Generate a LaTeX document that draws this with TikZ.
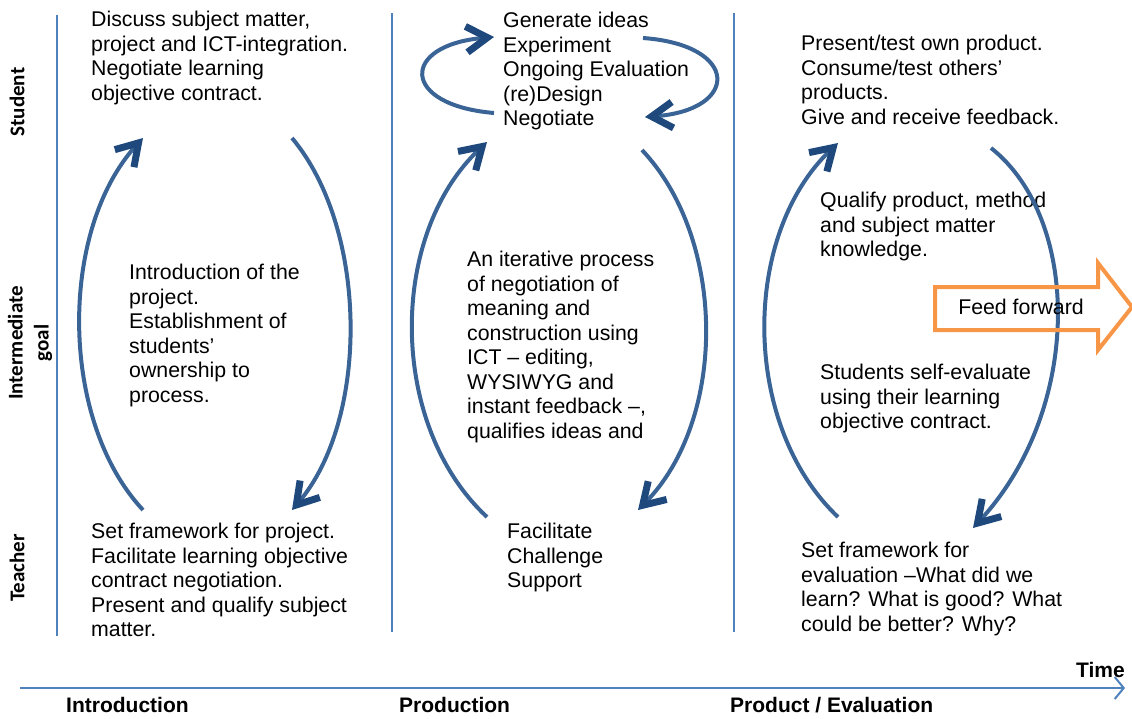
\documentclass[tikz,border=0pt]{standalone}
\usepackage{fontspec}
\setmainfont{Liberation Sans}
\newfontfamily\calibri{Carlito}
\usetikzlibrary{arrows.meta}
\definecolor{arcblue}{HTML}{3B6496}
\definecolor{headblue}{HTML}{1F497D}
\definecolor{gridblue}{HTML}{4F81BD}
\definecolor{ffor}{HTML}{F79646}
\tikzset{
  txt/.style={anchor=north west, inner sep=0pt, align=left, font=\fontsize{21.3}{24.5}\selectfont},
  rowlab/.style={rotate=90, inner sep=0pt, align=center, font=\calibri\bfseries\fontsize{21}{26}\selectfont},
  phase/.style={anchor=west, inner sep=0pt, font=\bfseries\fontsize{21}{24}\selectfont},
  cyc/.style={line width=4pt, draw=arcblue, -{Straight Barb[length=21pt,width=26pt,line width=7pt 0,color=headblue]}},
  sep/.style={line width=2pt, draw=gridblue},
}
\begin{document}
\begin{tikzpicture}[x=1pt,y=-1pt]
\useasboundingbox (0,0) rectangle (1132,718);
% separators
\coordinate (v1t) at (57,15); \coordinate (v1b) at (57,636);
\coordinate (v2t) at (392,13); \coordinate (v2b) at (392,632);
\coordinate (v3t) at (734,13); \coordinate (v3b) at (734,632);
\draw[sep] (v1t) -- (v1b);
\draw[sep] (v2t) -- (v2b);
\draw[sep] (v3t) -- (v3b);
% time axis
\coordinate (ta) at (20,688); \coordinate (tb) at (1125,688);
\draw[sep, -{Straight Barb[length=9pt,width=22pt,line width=2pt]}] (ta) -- (tb);
\node[anchor=east, inner sep=0pt, font=\bfseries\fontsize{21}{24}\selectfont] (time) at (1125,670) {Time};
\node[phase] (p1) at (66,705) {Introduction};
\node[phase] (p2) at (399,705) {Production};
\node[phase] (p3) at (730,705) {Product / Evaluation};
% row labels
\node[rowlab] (rs) at (17,102) {Student};
\node[rowlab] (ri) at (30,343) {Intermediate\\goal};
\node[rowlab] (rt) at (17,568) {Teacher};
% texts
\node[txt] (s1) at (91,11) {Discuss subject matter,\\project and ICT-integration.\\Negotiate learning\\objective contract.};
\node[txt] (m1) at (129,264) {Introduction of the\\project.\\Establishment of\\students’\\ownership to\\process.};
\node[txt] (t1) at (91,523) {Set framework for project.\\Facilitate learning objective\\contract negotiation.\\Present and qualify subject\\matter.};
\node[txt] (s2) at (503,12) {Generate ideas\\Experiment\\Ongoing Evaluation\\(re)Design\\Negotiate};
\node[txt] (m2) at (467,251) {An iterative process\\of negotiation of\\meaning and\\construction using\\ICT – editing,\\WYSIWYG and\\instant feedback –,\\qualifies ideas and};
\node[txt] (t2) at (507,523) {Facilitate\\Challenge\\Support};
\node[txt] (s3) at (801,35) {Present/test own product.\\Consume/test others’\\products.\\Give and receive feedback.};
\node[txt] (m3a) at (820,192) {Qualify product, method\\and subject matter\\knowledge.};
\node[txt] (m3b) at (820,364) {Students self-evaluate\\using their learning\\objective contract.};
\node[txt] (t3) at (801,542) {Set framework for\\evaluation –What did we\\learn? What is good? What\\could be better? Why?};
% cycle arcs
\coordinate (a1s) at (143,510); \coordinate (a1e) at (143,138);
\coordinate (a2s) at (292,138); \coordinate (a2e) at (292,510);
\coordinate (b1s) at (487,517); \coordinate (b1e) at (487,142);
\coordinate (b2s) at (642,150); \coordinate (b2e) at (638,510);
\coordinate (c1s) at (838,517); \coordinate (c1e) at (838,143);
\coordinate (c2s) at (991,148); \coordinate (c2e) at (973,528);
\coordinate (l1s) at (494,113); \coordinate (l1e) at (494,37);
\coordinate (l2s) at (643,38); \coordinate (l2e) at (645,117);
\draw[cyc] (a1s) .. controls (59,420) and (59,230) .. (a1e);
\draw[cyc] (a2s) .. controls (369,230) and (369,420) .. (a2e);
\draw[cyc] (b1s) .. controls (388,425) and (388,235) .. (b1e);
\draw[cyc] (b2s) .. controls (727,240) and (727,420) .. (b2e);
\draw[cyc] (c1s) .. controls (741,425) and (741,235) .. (c1e);
\draw[cyc] (c2s) .. controls (1082,220) and (1082,410) .. (c2e);
\draw[cyc] (l1s) .. controls (400,105) and (400,45) .. (l1e);
\draw[cyc] (l2s) .. controls (740,45) and (740,110) .. (l2e);
% feed forward arrow
\draw[draw=ffor, line width=4pt, line join=miter] (935,287) -- (1098,287) -- (1098,263) -- (1132,307) -- (1098,350) -- (1098,330) -- (935,330) -- cycle;
\node[inner sep=0pt, font=\fontsize{21.3}{24.5}\selectfont] (ff) at (1021,307) {Feed forward};
\end{tikzpicture}
\end{document}
